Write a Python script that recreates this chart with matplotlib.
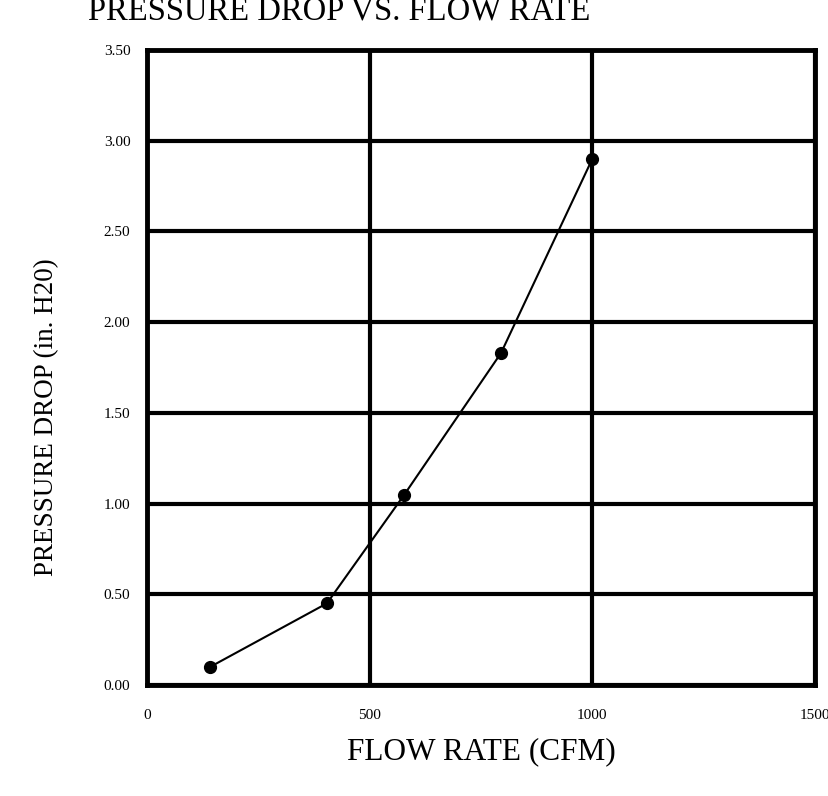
import matplotlib.pyplot as plt

# data
flow_cfm = [142, 404, 578, 795, 1000]
pressure_drop = [0.10, 0.45, 1.05, 1.83, 2.90]

x_ticks = [0, 500, 1000, 1500]
y_ticks = [0.0, 0.5, 1.0, 1.5, 2.0, 2.5, 3.0, 3.5]

plt.rcParams["font.family"] = ["Liberation Serif", "DejaVu Serif"]

fig = plt.figure(figsize=(8.29, 7.96), dpi=100)
ax = fig.add_axes([147 / 829, 1 - 685 / 796, (815 - 147) / 829, (685 - 50) / 796])

ax.plot(flow_cfm, pressure_drop, color="black", linewidth=1.5,
        marker="o", markersize=8.5, zorder=3, clip_on=False)

ax.set_xlim(0, 1500)
ax.set_ylim(0, 3.5)
ax.set_xticks(x_ticks)
ax.set_yticks(y_ticks)
ax.set_yticklabels([f"{v:.2f}" for v in y_ticks])
ax.tick_params(length=0, labelsize=11)
ax.tick_params(axis="y", pad=12)
ax.tick_params(axis="x", pad=17)

ax.grid(True, color="black", linewidth=3)
for s in ax.spines.values():
    s.set_linewidth(3.5)

ax.set_xlabel("FLOW RATE (CFM)", fontsize=22.5, labelpad=11)

# y label sits a bit below the middle of the axes in the original
fig.text(47 / 829, 1 - 417 / 796, "PRESSURE DROP (in. H20)",
         fontsize=19.5, rotation=90, ha="center", va="center")

# title is clipped at the top edge in the original too
fig.text(339 / 829, 1 - 19 / 796, "PRESSURE DROP VS. FLOW RATE",
         fontsize=23.5, ha="center", va="baseline")

fig.savefig("out.png", dpi=100)
